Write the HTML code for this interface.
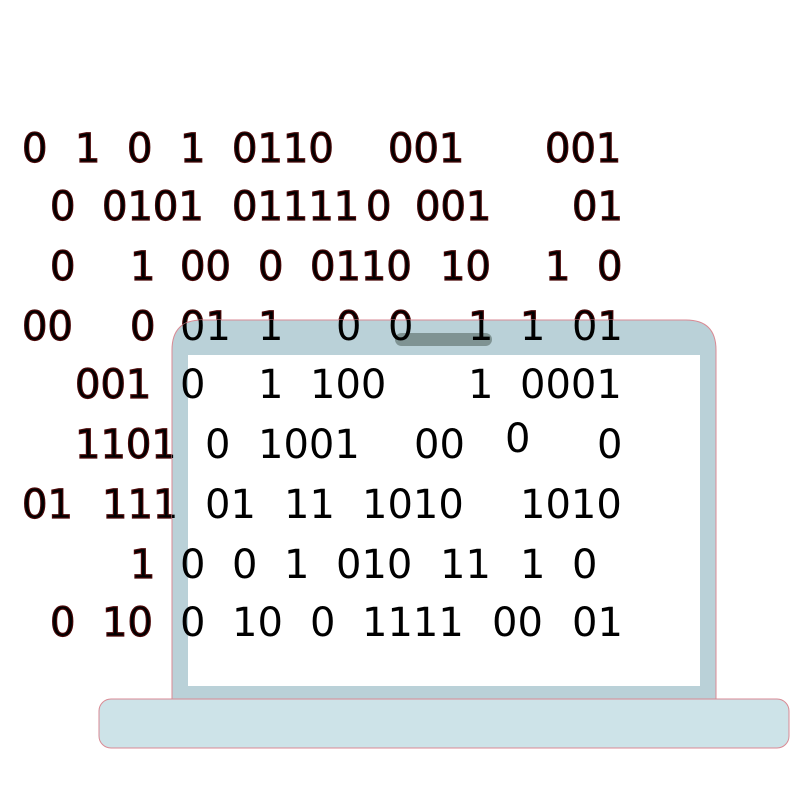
<!DOCTYPE html>
<html><head><style>html,body{margin:0;padding:0;background:#fff;width:800px;height:800px;overflow:hidden}</style></head>
<body>
<svg width="800" height="800" viewBox="0 0 800 800" xmlns="http://www.w3.org/2000/svg">
<defs>
<clipPath id="lap"><path d="M172 700 V350 Q172 320 202 320 H686 Q716 320 716 350 V700 Z"/></clipPath>
<g id="txt">
<text x="22" y="162">0</text><text x="75" y="162">1</text><text x="127" y="162">0</text><text x="180" y="162">1</text><text x="232" y="162">0110</text><text x="388" y="162">001</text><text x="545" y="162">001</text>
<text x="50" y="220">0</text><text x="102" y="220">0101</text><text x="232" y="220">01111</text><text x="366" y="220">0</text><text x="415" y="220">001</text><text x="572" y="220">01</text>
<text x="50" y="280">0</text><text x="130" y="280">1</text><text x="180" y="280">00</text><text x="258" y="280">0</text><text x="310" y="280">0110</text><text x="440" y="280">10</text><text x="545" y="280">1</text><text x="597" y="280">0</text>
<text x="22" y="340">00</text><text x="130" y="340">0</text><text x="180" y="340">01</text><text x="258" y="340">1</text><text x="336" y="340">0</text><text x="388" y="340">0</text><text x="468" y="340">1</text><text x="520" y="340">1</text><text x="572" y="340">01</text>
<text x="75" y="398">001</text><text x="180" y="398">0</text><text x="258" y="398">1</text><text x="310" y="398">100</text><text x="468" y="398">1</text><text x="520" y="398">0001</text>
<text x="75" y="458">1101</text><text x="205" y="458">0</text><text x="258" y="458">1001</text><text x="414" y="458">00</text><text x="505" y="452">0</text><text x="597" y="458">0</text>
<text x="22" y="518">01</text><text x="102" y="518">111</text><text x="205" y="518">01</text><text x="284" y="518">11</text><text x="362" y="518">1010</text><text x="520" y="518">1010</text>
<text x="130" y="578">1</text><text x="180" y="578">0</text><text x="232" y="578">0</text><text x="284" y="578">1</text><text x="336" y="578">010</text><text x="440" y="578">11</text><text x="520" y="578">1</text><text x="572" y="578">0</text>
<text x="50" y="636">0</text><text x="102" y="636">10</text><text x="180" y="636">0</text><text x="232" y="636">10</text><text x="310" y="636">0</text><text x="362" y="636">1111</text><text x="492" y="636">00</text><text x="572" y="636">01</text>
</g>
</defs>
<g font-family="DejaVu Sans, sans-serif" font-size="40" fill="#000" stroke="#4a0808" stroke-width="1.2">
<use href="#txt"/>
</g>
<path d="M172 700 V350 Q172 320 202 320 H686 Q716 320 716 350 V700 Z" fill="#bad1d8" stroke="#d98a94" stroke-width="1"/>
<rect x="188" y="355" width="512" height="331" fill="#fff"/>
<rect x="395" y="333" width="97" height="13" rx="6.5" fill="#7f9393"/>
<rect x="99" y="699" width="690" height="49" rx="12" fill="#cde3e8" stroke="#d98a94" stroke-width="1"/>
<g clip-path="url(#lap)" font-family="DejaVu Sans, sans-serif" font-size="40" fill="#000">
<use href="#txt"/>
</g>
</svg>
</body></html>
